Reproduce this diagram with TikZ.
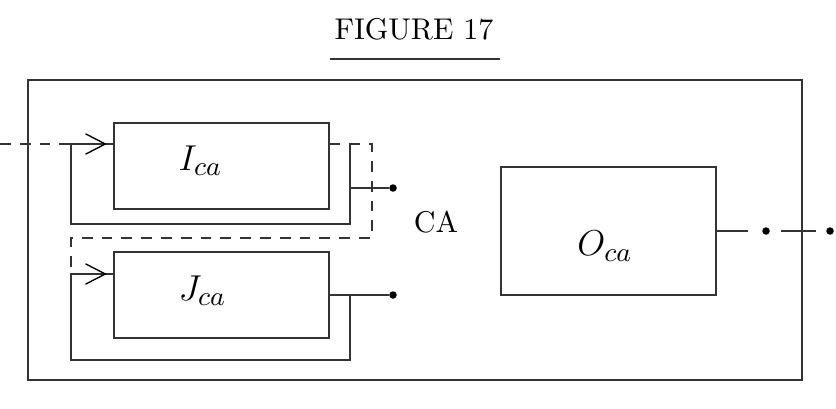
\documentclass[tikz,border=0pt]{standalone}
\usetikzlibrary{arrows.meta,decorations.markings}
\begin{document}
\begin{tikzpicture}[x=0.33333pt,y=-0.33333pt,
  ln/.style={draw=black!80,line width=0.4pt},
  dsh/.style={ln,dash pattern=on 3.6pt off 3pt},
  blk/.style={ln,rectangle,inner sep=0pt,minimum width=71.67pt,minimum height=28.67pt},
  lbl/.style={font=\fontsize{13}{15}\selectfont},
  dot/.style={circle,fill=black,inner sep=0pt,minimum size=2.5pt},
  feed/.style={postaction={decorate,decoration={markings,
    mark=at position -2.2pt with {\arrow{Straight Barb[length=6.6pt,width=6.8pt,line width=0.45pt,black]}}}}}]
  \useasboundingbox[fill=white] (0,0) rectangle (836,408);

  % title
  \node[anchor=base] (title) at (414,40) {FIGURE 17};
  \coordinate (ulA) at (330,59);
  \coordinate (ulB) at (500,59);
  \draw[ln] (ulA) -- (ulB);

  % enclosing frame
  \node[ln,rectangle,inner sep=0pt,minimum width=258pt,minimum height=100pt] (frame) at (415,230) {};

  % blocks
  \node[blk] (I) at (221.5,166) {};
  \node[blk] (J) at (221.5,295) {};
  \node[blk,minimum height=42.67pt] (O) at (608.5,231) {};
  \node[lbl,anchor=base west] (Il) at (168,170) {$I_{ca}$};
  \node[lbl,anchor=base west] (Jl) at (168,300) {$J_{ca}$};
  \node[lbl] (Ol) at (605,246) {$O_{ca}$};
  \node (CA) at (436,222) {CA};

  % junction points
  \coordinate (in) at (0,144);
  \coordinate (Iin) at (71,144);
  \coordinate (Ir) at (350,144);
  \coordinate (It) at (350,188);
  \coordinate (Ib) at (350,224);
  \coordinate (Ibl) at (71,224);
  \coordinate (Dr) at (372,144);
  \coordinate (Drb) at (372,238);
  \coordinate (Dlb) at (71,238);
  \coordinate (Jin) at (71,274);
  \coordinate (Jr) at (350,295);
  \coordinate (Jb) at (350,360);
  \coordinate (Jbl) at (71,360);
  \coordinate (oa) at (748,231);
  \coordinate (ob) at (781,231);
  \coordinate (oc) at (816,231);

  % output terminals
  \node[dot] (dI) at (393,188) {};
  \node[dot] (dJ) at (393,295) {};
  \node[dot] (dO1) at (766,231) {};
  \node[dot] (dO2) at (830,231) {};

  % dashed control line threading both loops
  \draw[dsh] (in) -- (Iin);
  \draw[dsh] (I.east |- Iin) -- (Dr) -- (Drb) -- (Dlb) -- (Jin);

  % feedback loop of I
  \draw[ln,feed] (Ir) -- (Ib) -- (Ibl) -- (Iin) -- (I.west |- Iin);
  \draw[ln] (It) -- (dI);

  % feedback loop of J
  \draw[ln] (J.east) -- (dJ);
  \draw[ln,feed] (Jr) -- (Jb) -- (Jbl) -- (Jin) -- (J.west |- Jin);

  % output of O
  \draw[ln] (O.east) -- (oa);
  \draw[ln] (ob) -- (oc);
\end{tikzpicture}
\end{document}
